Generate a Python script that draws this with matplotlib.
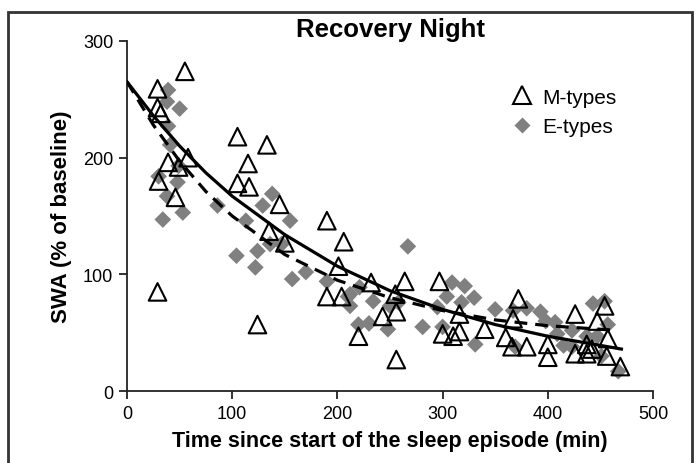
import matplotlib
matplotlib.use("Agg")
import matplotlib.pyplot as plt
from matplotlib.patches import Rectangle
from matplotlib.lines import Line2D

plt.rcParams["font.family"] = ["Liberation Sans", "DejaVu Sans"]

# M-types (open triangles)
m_x = [55, 29, 29, 32, 39, 58, 49, 30, 46, 29,
       105, 133, 115, 105, 116, 145, 124,
       135, 150, 190, 206, 201, 190, 204,
       232, 264, 297, 255, 256, 243, 220, 256, 300, 310,
       316, 316, 340, 372, 367, 360, 366, 380, 400, 400,
       426, 426, 437, 447, 454, 457, 456, 469, 437, 442]
m_y = [274, 259, 243, 238, 196, 200, 192, 180, 166, 85,
       218, 211, 195, 178, 175, 160, 57,
       137, 127, 146, 128, 107, 81, 81,
       93, 94, 94, 83, 68, 64, 47, 27, 49, 47,
       66, 51, 53, 79, 62, 46, 38, 38, 40, 29,
       66, 32, 32, 60, 73, 45, 30, 21, 40, 36]

# E-types (grey diamonds)
e_x = [39, 38, 50, 39, 41, 49, 30, 48, 38, 86, 53, 34,
       138, 129, 155, 113, 104, 124, 122, 157, 136, 147, 170, 190, 210,
       267, 212, 212, 221, 234, 220, 230, 248, 250, 281, 295, 304, 309, 300, 258,
       321, 330, 318, 350, 331, 367, 380, 393, 398, 407, 409, 369, 415, 423,
       423, 437, 443, 454, 457, 451, 447, 467]
e_y = [258, 248, 242, 227, 211, 193, 184, 179, 167, 159, 153, 147,
       169, 159, 146, 146, 116, 120, 106, 96, 126, 126, 102, 94, 81,
       124, 83, 73, 89, 77, 57, 58, 53, 73, 55, 72, 81, 93, 55, 76,
       90, 80, 76, 70, 40, 69, 71, 68, 60, 59, 49, 38, 39, 38,
       52, 47, 75, 77, 57, 30, 47, 17]

# fitted curves
fit_x = [0, 25, 50, 75, 100, 150, 200, 250, 300, 350, 400, 470]
m_fit = [265, 236, 210, 187, 167, 134, 107, 86, 70, 57, 47, 36]
e_fit_x = [0, 25, 50, 75, 100, 150, 200, 250, 300, 350, 400, 466]
e_fit = [265, 228, 197, 171, 150, 117, 95, 80, 69, 61, 56, 52]

fig = plt.figure(figsize=(6.98, 4.64), dpi=100)
ax = fig.add_axes([0.182, 0.155, 0.7535, 0.7545])

ax.scatter(e_x, e_y, marker="D", s=72, color="#808080", edgecolors="none", zorder=2)
ax.scatter(m_x, m_y, marker="^", s=160, facecolors="none", edgecolors="black",
           linewidths=1.5, zorder=3)
ax.plot(fit_x, m_fit, color="black", lw=2.3, zorder=4)
ax.plot(e_fit_x, e_fit, color="black", lw=2.3, ls=(0, (4, 2.5)), zorder=4)

ax.set_xlim(0, 500)
ax.set_ylim(0, 300)
ax.set_xticks([0, 100, 200, 300, 400, 500])
ax.set_yticks([0, 100, 200, 300])
ax.spines["top"].set_visible(False)
ax.spines["right"].set_visible(False)
for s in ["left", "bottom"]:
    ax.spines[s].set_linewidth(1.3)
    ax.spines[s].set_color("#222222")
ax.tick_params(length=6, width=1.3, color="#222222", labelsize=13, pad=4)
ax.set_xlabel("Time since start of the sleep episode (min)", fontsize=15.5,
              fontweight="bold", labelpad=6)
ax.set_ylabel("SWA (% of baseline)", fontsize=16, fontweight="bold", labelpad=8)
ax.set_title("Recovery Night", fontsize=18.5, fontweight="bold", pad=-1)

handles = [
    Line2D([], [], marker="^", ls="none", markersize=12.5, markerfacecolor="none",
           markeredgecolor="black", markeredgewidth=1.5),
    Line2D([], [], marker="D", ls="none", markersize=8.5, color="#808080",
           markeredgecolor="none"),
]
ax.legend(handles, ["M-types", "E-types"], loc="upper left",
          bbox_to_anchor=(0.675, 0.92), frameon=False, fontsize=15,
          handletextpad=0.0, labelspacing=0.5)

fig.patches.append(Rectangle((0.011, -0.1), 0.981, 1.072, transform=fig.transFigure,
                             fill=False, edgecolor="#333333", lw=2))

fig.savefig("out.png", dpi=100)
